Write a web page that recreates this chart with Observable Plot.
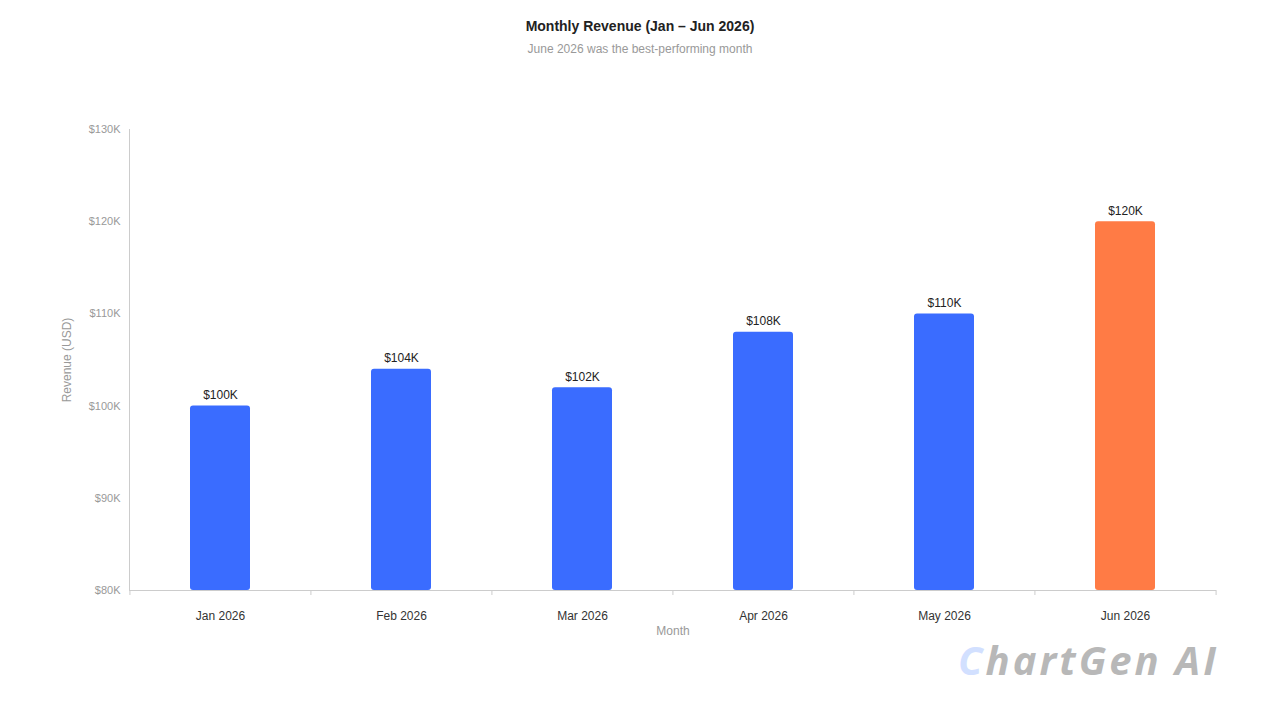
<!DOCTYPE html>
<html>
<head>
<meta charset="utf-8">
<script src="https://cdn.jsdelivr.net/npm/d3@7"></script>
<script src="https://cdn.jsdelivr.net/npm/@observablehq/plot@0.6"></script>
<style>
  html, body { margin: 0; padding: 0; background: #fff; }
  body { width: 1280px; height: 720px; position: relative; overflow: hidden; font-family: "Liberation Sans", Arial, sans-serif; }
  #header { height: 70px; text-align: center; }
  #title { padding-top: 18px; font-size: 14px; font-weight: bold; color: #222; line-height: 16px; }
  #subtitle { margin-top: 8px; font-size: 12px; color: #999; line-height: 14px; }
  #chart { position: absolute; left: 0; top: 70px; }
  #wm { position: absolute; left: 958px; top: 635px; font-family: "Open Sans", sans-serif; font-weight: 700; font-style: italic; font-size: 40px; color: #b8b8b8; letter-spacing: 3px; line-height: 50px; }
  #wm span { color: #d2e0ff; }
</style>
</head>
<body>
<div id="header">
  <div id="title">Monthly Revenue (Jan – Jun 2026)</div>
  <div id="subtitle">June 2026 was the best-performing month</div>
</div>
<div id="chart"></div>
<div id="wm"><span>C</span>hartGen AI</div>
<script>
const months = ["Jan 2026", "Feb 2026", "Mar 2026", "Apr 2026", "May 2026", "Jun 2026"];
const revenue = [100000, 104000, 102000, 108000, 110000, 120000];
const highlight = ["Jun 2026"];
const yTicks = [80000, 90000, 100000, 110000, 120000, 130000];

const data = months.map((m, i) => ({month: m, value: revenue[i]}));

const W = 1280, H = 650;
const mL = 129, mR = 64, mT = 59, mB = 130;
const step = (W - mL - mR) / months.length;
const fmtK = v => "$" + Math.round(v / 1000) + "K";

const chart = Plot.plot({
  width: W,
  height: H,
  marginLeft: mL,
  marginRight: mR,
  marginTop: mT,
  marginBottom: mB,
  style: {fontFamily: "'Liberation Sans', Arial, sans-serif", background: "#fff"},
  x: {domain: months, paddingInner: 0.67, paddingOuter: 0.335, label: "Month"},
  y: {domain: [80000, 130000], label: "Revenue (USD)"},
  marks: [
    Plot.barY(data, {
      x: "month", y1: 80000, y2: "value",
      fill: d => highlight.includes(d.month) ? "#FF7B45" : "#3A6CFF",
      rx: 3
    }),
    Plot.ruleY([80000], {stroke: "#cccccc", strokeWidth: 1}),
    Plot.frame({anchor: "left", stroke: "#cccccc"}),
    Plot.ruleX(months, {x: d => d, y1: 80000, y2: 80000, insetBottom: -5, dx: -step / 2, stroke: "#cccccc"}),
    Plot.ruleX(months.slice(-1), {x: d => d, y1: 80000, y2: 80000, insetBottom: -5, dx: step / 2, stroke: "#cccccc"}),
    Plot.axisY({
      ticks: yTicks, tickFormat: fmtK, tickSize: 0, tickPadding: 9,
      fontSize: 11, fill: "#999999", label: null
    }),
    Plot.text(["Revenue (USD)"], {
      frameAnchor: "left", text: d => d, rotate: -90, dx: -62, textAnchor: "middle", fontSize: 12, fill: "#999999"
    }),
    Plot.axisX({
      tickSize: 0, tickPadding: 21, fontSize: 12, fill: "#333333",
      label: null
    }),
    Plot.text(["Month"], {
      frameAnchor: "bottom", text: d => d, dy: 44, fontSize: 12, fill: "#999999"
    }),
    Plot.text(data, {
      x: "month", y: "value", text: d => fmtK(d.value),
      dy: -11, fontSize: 12, fill: "#222"
    })
  ]
});
document.getElementById("chart").appendChild(chart);
</script>
</body>
</html>
